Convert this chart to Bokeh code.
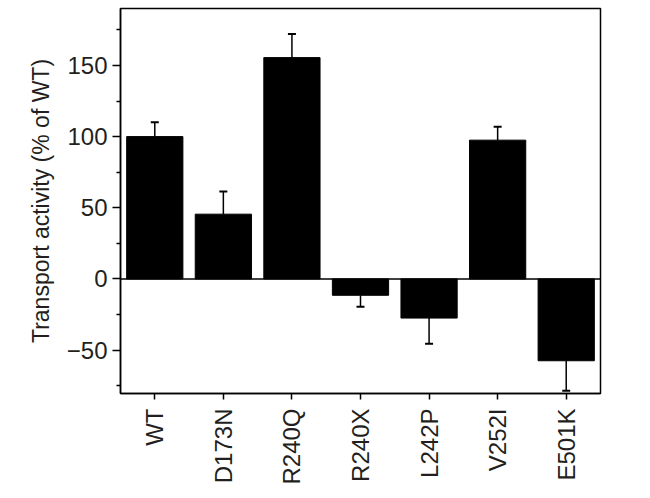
from bokeh.plotting import figure
from bokeh.models import Range1d, FactorRange, FixedTicker, Span, ColumnDataSource, CustomJSTickFormatter
from bokeh.embed import file_html
from bokeh.resources import INLINE
import math

categories = ["WT", "D173N", "R240Q", "R240X", "L242P", "V252I", "E501K"]
values = [100, 45.5, 155.5, -11.5, -27.5, 97.5, -57.5]
errors = [10, 16, 16.5, 8, 18, 9.5, 21]
y_ticks = [-50, 0, 50, 100, 150]
y_minor = [-75, -25, 25, 75, 125, 175]

ends = [v + e if v >= 0 else v - e for v, e in zip(values, errors)]
src = ColumnDataSource(dict(x=categories, top=values, end=ends))

FONT = "Liberation Sans"
TXT = "#231f20"

p = figure(x_range=FactorRange(*categories, range_padding=0), y_range=Range1d(-80.5, 190),
           width=650, height=498, output_backend="svg", toolbar_location=None,
           min_border_left=120, min_border_right=50, min_border_top=8, min_border_bottom=105)
p.frame_width = 480
p.frame_height = 385

p.vbar(x="x", top="top", bottom=0, width=0.82, source=src, fill_color="black", line_color="black")
p.segment(x0="x", y0="top", x1="x", y1="end", source=src, line_color="black", line_width=1.5)
p.scatter(x="x", y="end", source=src, marker="dash", size=8, line_color="black", line_width=2)
p.add_layout(Span(location=0, dimension="width", line_color="black", line_width=1.5))

p.xgrid.visible = False
p.ygrid.visible = False
p.outline_line_color = "black"
p.outline_line_width = 1.5

p.yaxis.ticker = FixedTicker(ticks=y_ticks, minor_ticks=y_minor)
p.yaxis.formatter = CustomJSTickFormatter(
    code="return tick < 0 ? '\\u2212' + Math.abs(tick).toString() : tick.toString();")
p.yaxis.axis_label = "Transport activity (% of WT)"
for ax in (p.xaxis[0], p.yaxis[0]):
    ax.axis_line_color = "black"
    ax.axis_line_width = 1.5
    ax.major_tick_line_color = "black"
    ax.major_tick_line_width = 1.5
    ax.major_tick_in = 0
    ax.major_label_text_font = FONT
    ax.major_label_text_font_size = "24px"
    ax.major_label_text_color = TXT
p.yaxis.major_tick_out = 8
p.xaxis.major_tick_out = 6
p.yaxis.minor_tick_line_color = "black"
p.yaxis.minor_tick_line_width = 1.5
p.yaxis.minor_tick_in = 0
p.yaxis.minor_tick_out = 4
p.yaxis.major_label_standoff = 5
p.yaxis.axis_label_text_font = FONT
p.yaxis.axis_label_text_font_style = "normal"
p.yaxis.axis_label_text_font_size = "23px"
p.yaxis.axis_label_text_color = TXT
p.yaxis.axis_label_standoff = 10
p.xaxis.major_label_orientation = math.pi / 2
p.xaxis.major_label_standoff = 9

open("out.html", "w").write(file_html(p, INLINE))
